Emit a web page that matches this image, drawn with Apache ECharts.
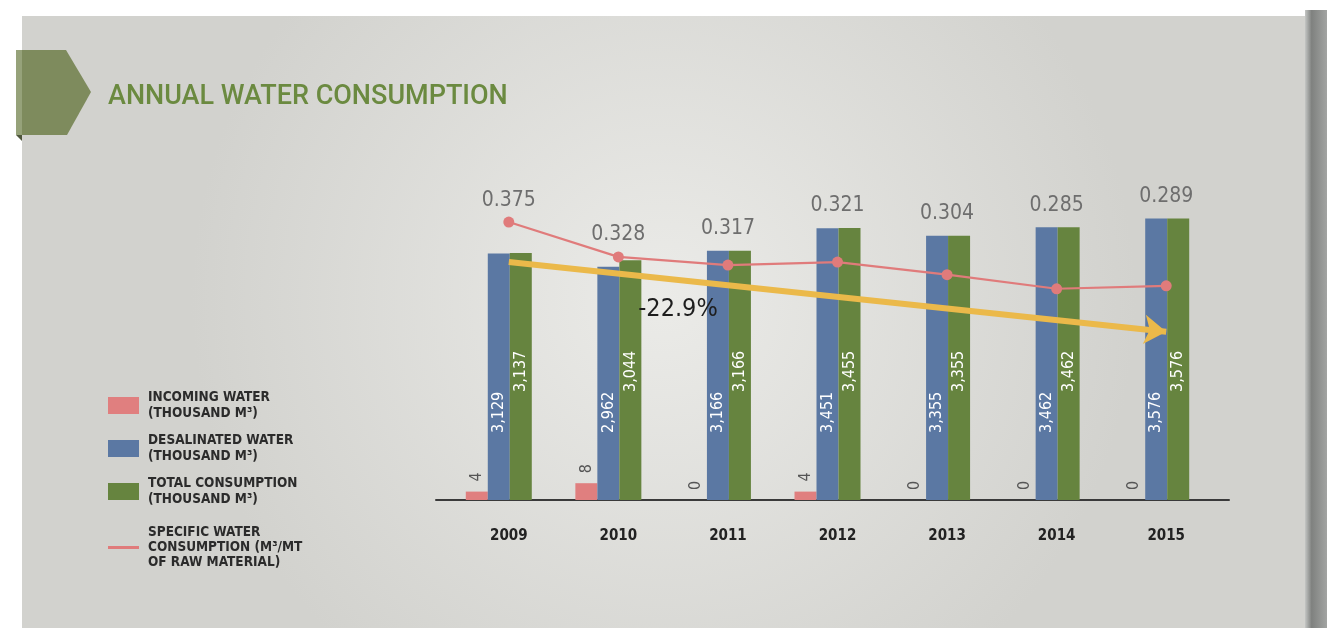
<!DOCTYPE html>
<html>
<head>
<meta charset="utf-8">
<title>Annual Water Consumption</title>
<script src="https://cdn.jsdelivr.net/npm/echarts@6/dist/echarts.min.js"></script>
<style>
html, body { margin: 0; padding: 0; background: #fff; }
#main { width: 1327px; height: 628px; }
</style>
</head>
<body>
<div id="main"></div>
<script>
// data
var years = ['2009', '2010', '2011', '2012', '2013', '2014', '2015'];
var incoming = [4, 8, 0, 4, 0, 0, 0];
var desalinated = [3129, 2962, 3166, 3451, 3355, 3462, 3576];
var totalConsumption = [3137, 3044, 3166, 3455, 3355, 3462, 3576];
var specific = [0.375, 0.328, 0.317, 0.321, 0.304, 0.285, 0.289];
// trend arrow drawn on the specific axis (from 2009 to 2015)
var trendArrow = [['2009', 0.321], ['2015', 0.227]];

var nameIncoming = 'INCOMING WATER\n(THOUSAND M³)';
var nameDesal = 'DESALINATED WATER\n(THOUSAND M³)';
var nameTotal = 'TOTAL CONSUMPTION\n(THOUSAND M³)';
var nameSpecific = 'SPECIFIC WATER\nCONSUMPTION (M³/MT\nOF RAW MATERIAL)';

var BAR_MAX = 4000;
var LINE_MAX = 0.425;
var NARROW = "'DejaVu Sans Condensed', 'DejaVu Sans', sans-serif";

var change = ((specific[specific.length - 1] - specific[0]) / specific[0] * 100).toFixed(1) + '%';

function fmt(v) { return v.toLocaleString('en-US'); }

var chart = echarts.init(document.getElementById('main'));

var option = {
	animation: false,
	backgroundColor: '#ffffff',
	title: {
		text: 'ANNUAL WATER CONSUMPTION',
		left: 108,
		top: 84,
		padding: 0,
		textStyle: { color: '#6b8a40', fontSize: 27, fontWeight: 500, fontFamily: 'Roboto' }
	},
	legend: [{
		data: [nameIncoming, nameDesal, nameTotal],
		orient: 'vertical',
		left: 108,
		top: 384,
		padding: 0,
		itemWidth: 31,
		itemHeight: 17,
		itemGap: 0,
		icon: 'rect',
		selectedMode: false,
		textStyle: { fontFamily: NARROW, fontSize: 13.5, fontWeight: 'bold', color: '#2b2b2b', lineHeight: 16, padding: [11, 0, 0, 4] }
	}, {
		data: [nameSpecific],
		orient: 'vertical',
		left: 108,
		top: 509,
		padding: 0,
		itemWidth: 31,
		itemHeight: 3,
		icon: 'rect',
		selectedMode: false,
		textStyle: { fontFamily: NARROW, fontSize: 13.5, fontWeight: 'bold', color: '#2b2b2b', lineHeight: 15, padding: [32, 0, 0, 4] }
	}],
	grid: [
		{ left: 444, right: 116, top: 185, bottom: 128 },
		{ left: 454, right: 106, top: 185, bottom: 128 },
		{ left: 436, right: 98, top: 185, bottom: 128 }
	],
	xAxis: [{
		gridIndex: 0, type: 'category', data: years,
		axisLine: { show: false }, axisTick: { show: false }, axisLabel: { show: false }
	}, {
		gridIndex: 1, type: 'category', data: years,
		axisLine: { show: false }, axisTick: { show: false },
		axisLabel: { color: '#222', fontSize: 15, fontWeight: 'bold', fontFamily: NARROW, margin: 29 }
	}, {
		gridIndex: 2, type: 'category', data: years,
		axisLine: { show: true, lineStyle: { color: '#3a3a3a', width: 2 } },
		axisTick: { show: false }, axisLabel: { show: false }
	}],
	yAxis: [
		{ gridIndex: 0, type: 'value', min: 0, max: BAR_MAX, show: false },
		{ gridIndex: 0, type: 'value', min: 0, max: 150, show: false },
		{ gridIndex: 1, type: 'value', min: 0, max: LINE_MAX, show: false },
		{ gridIndex: 2, type: 'value', min: 0, max: 1, show: false }
	],
	series: [{
		name: nameIncoming,
		type: 'bar',
		xAxisIndex: 0, yAxisIndex: 1,
		barWidth: 22, barGap: '0%',
		itemStyle: { color: '#e07f7f' },
		label: {
			show: true, position: 'top', distance: 10, rotate: 90, align: 'left', verticalAlign: 'middle',
			color: '#555', fontSize: 16, fontFamily: NARROW
		},
		data: incoming
	}, {
		name: nameDesal,
		type: 'bar',
		xAxisIndex: 0, yAxisIndex: 0,
		barWidth: 22, barGap: '0%',
		itemStyle: { color: '#5b78a3' },
		label: {
			show: true, position: 'insideBottom', distance: 67, rotate: 90, align: 'left', verticalAlign: 'middle',
			color: '#fff', fontSize: 16, fontFamily: NARROW, formatter: function (p) { return fmt(p.value); }
		},
		data: desalinated
	}, {
		name: nameTotal,
		type: 'bar',
		xAxisIndex: 0, yAxisIndex: 0,
		barWidth: 22, barGap: '0%',
		itemStyle: { color: '#66843f' },
		label: {
			show: true, position: 'insideBottom', distance: 108, rotate: 90, align: 'left', verticalAlign: 'middle',
			color: '#fff', fontSize: 16, fontFamily: NARROW, formatter: function (p) { return fmt(p.value); }
		},
		data: totalConsumption
	}, {
		name: nameSpecific,
		type: 'line',
		xAxisIndex: 1, yAxisIndex: 2,
		symbol: 'circle', symbolSize: 11,
		itemStyle: { color: '#e07b7b' },
		lineStyle: { color: '#e07b7b', width: 2.2 },
		z: 5,
		markLine: {
			silent: true,
			symbol: ['none', 'arrow'],
			symbolSize: 22,
			label: { show: false },
			lineStyle: { color: '#ebb94a', width: 6, type: 'solid' },
			data: [[{ coord: trendArrow[0] }, { coord: trendArrow[1] }]]
		},
		data: specific
	}, {
		type: 'custom',
		xAxisIndex: 1, yAxisIndex: 2,
		z: 6,
		silent: true,
		data: years.map(function (y, i) { return [i, specific[i], totalConsumption[i]]; }),
		encode: { x: 0, y: 1 },
		renderItem: function (params, api) {
			var i = api.value(0);
			var pDot = api.coord([i, api.value(1)]);
			var pBar = api.coord([i, api.value(2) * LINE_MAX / BAR_MAX]);
			var y = Math.min(pDot[1], pBar[1]) - 22;
			return {
				type: 'text',
				x: pDot[0], y: y,
				style: {
					text: api.value(1).toFixed(3),
					fill: '#6e6e6e',
					font: '21px ' + NARROW,
					align: 'center',
					verticalAlign: 'middle'
				}
			};
		}
	}],
	graphic: [{
		type: 'rect', z: -100, silent: true,
		shape: { x: 22, y: 16, width: 1283, height: 630 },
		style: {
			fill: new echarts.graphic.RadialGradient(0.5, 0.45, 0.75, [
				{ offset: 0, color: '#ebebe8' },
				{ offset: 1, color: '#d2d2ce' }
			])
		}
	}, {
		type: 'rect', z: -99, silent: true,
		shape: { x: 1305, y: 10, width: 22, height: 618 },
		style: {
			fill: new echarts.graphic.LinearGradient(0, 0, 1, 0, [
				{ offset: 0, color: '#c4c6c4' },
				{ offset: 0.3, color: '#7f817f' },
				{ offset: 1, color: '#a2a4a2' }
			])
		}
	}, {
		type: 'polygon', z: 10, silent: true,
		shape: { points: [[16, 50], [66, 50], [91, 92], [67, 135], [16, 135]] },
		style: { fill: '#7e8b5d' }
	}, {
		type: 'rect', z: 11, silent: true,
		shape: { x: 16, y: 50, width: 6, height: 85 },
		style: { fill: '#96a27a' }
	}, {
		type: 'polygon', z: 11, silent: true,
		shape: { points: [[16, 135], [22, 135], [22, 141]] },
		style: { fill: '#4d553a' }
	}, {
		type: 'text', z: 20, silent: true,
		x: 678, y: 309,
		style: {
			text: change,
			fill: '#1e1e1e',
			font: '500 25px ' + NARROW,
			align: 'center',
			verticalAlign: 'middle'
		}
	}]
};

chart.setOption(option);
</script>
</body>
</html>
